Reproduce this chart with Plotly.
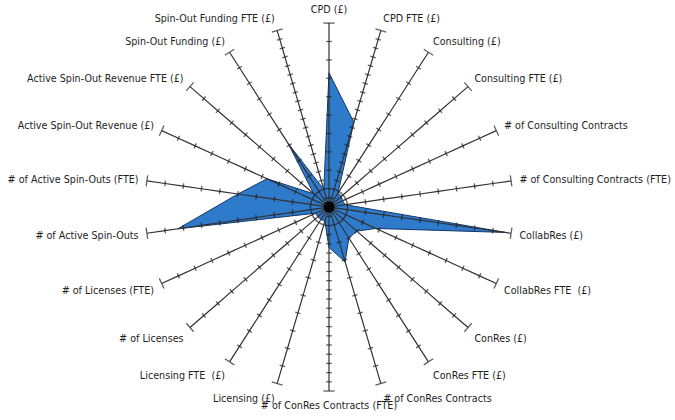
import plotly.graph_objects as go

# Spokes, clockwise from the top
axis_labels = [
    "CPD (£)",
    "CPD FTE (£)",
    "Consulting (£)",
    "Consulting FTE (£)",
    "# of Consulting Contracts",
    "# of Consulting Contracts (FTE)",
    "CollabRes (£)",
    "CollabRes FTE  (£)",
    "ConRes (£)",
    "ConRes FTE (£)",
    "# of ConRes Contracts",
    "# of ConRes Contracts (FTE)",
    "Licensing (£)",
    "Licensing FTE  (£)",
    "# of Licenses",
    "# of Licenses (FTE)",
    "# of Active Spin-Outs",
    "# of Active Spin-Outs (FTE)",
    "Active Spin-Out Revenue (£)",
    "Active Spin-Out Revenue FTE (£)",
    "Spin-Out Funding (£)",
    "Spin-Out Funding FTE (£)",
]

# Normalised score on each spoke (0 = centre, 1 = end of spoke)
values = [0.73, 0.48, 0.09, 0.09, 0.08, 0.09, 0.97, 0.28, 0.20, 0.20,
          0.31, 0.22, 0.08, 0.08, 0.08, 0.08, 0.83, 0.50, 0.37, 0.11,
          0.41, 0.10]

# Number of tick divisions along each spoke
tick_divisions = [10, 20, 10, 10, 10, 10, 10, 10, 10, 10,
                  10, 20, 10, 10, 10, 10, 10, 10, 10, 10,
                  10, 20]

n = len(axis_labels)
angles = [i * 360.0 / n for i in range(n)]

fig = go.Figure()

# Filled profile
fig.add_trace(go.Scatterpolar(
    r=values + [values[0]],
    theta=angles + [angles[0]],
    mode="lines",
    fill="toself",
    fillcolor="rgb(46,123,204)",
    line=dict(color="rgb(22,55,100)", width=1),
    hoverinfo="skip",
))

# Spokes with cross ticks and an end cap
for ang, div in zip(angles, tick_divisions):
    rs = [k / div for k in range(div + 1)]
    sizes = [0] + [4] * (div - 1) + [8]
    fig.add_trace(go.Scatterpolar(
        r=rs,
        theta=[ang] * len(rs),
        mode="lines+markers",
        line=dict(color="rgb(50,50,50)", width=1.2),
        marker=dict(symbol="line-ew", size=sizes, angle=ang,
                    line=dict(color="rgb(30,30,30)", width=1.3)),
        hoverinfo="skip",
    ))

# Hub
fig.add_trace(go.Scatterpolar(
    r=[0], theta=[0], mode="markers",
    marker=dict(color="black", size=11),
    hoverinfo="skip",
))

fig.update_layout(
    width=675, height=420,
    margin=dict(l=0, r=0, t=0, b=0),
    paper_bgcolor="white",
    plot_bgcolor="white",
    showlegend=False,
    font=dict(family="DejaVu Sans", size=9.6, color="rgb(30,30,30)"),
    polar=dict(
        domain=dict(x=[0.2148, 0.76], y=[0.069, 0.945]),
        bgcolor="white",
        radialaxis=dict(range=[0, 1], visible=False),
        angularaxis=dict(
            direction="clockwise",
            rotation=90,
            tickmode="array",
            tickvals=angles,
            ticktext=axis_labels,
            showgrid=False,
            showline=False,
            ticks="outside",
            ticklen=6,
            tickcolor="rgba(0,0,0,0)",
            tickfont=dict(family="DejaVu Sans", size=9.6, color="rgb(30,30,30)"),
        ),
    ),
)

fig.write_html("out.html")
